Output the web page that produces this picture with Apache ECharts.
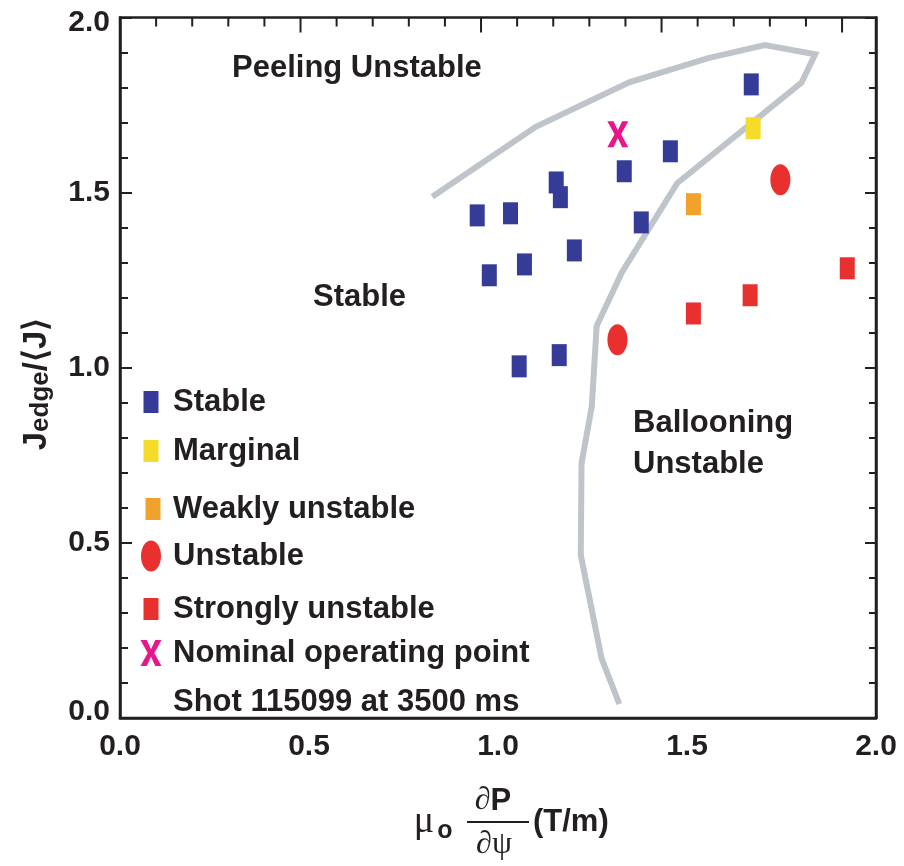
<!DOCTYPE html>
<html>
<head>
<meta charset="utf-8">
<title>Edge stability diagram</title>
<script src="https://cdn.jsdelivr.net/npm/echarts@6/dist/echarts.min.js"></script>
<style>
  html, body { margin: 0; padding: 0; background: #fff; }
  #chart { width: 904px; height: 866px; }
</style>
</head>
<body>
<div id="chart"></div>
<script>
// Measured cases: [pressure gradient (T/m), J_edge/<J>]
const stablePts = [
  [1.670, 1.809], [1.456, 1.618], [1.334, 1.561], [1.154, 1.529],
  [1.165, 1.487], [0.945, 1.435], [1.033, 1.441], [1.379, 1.415],
  [1.202, 1.335], [1.070, 1.295], [0.977, 1.264], [1.162, 1.036],
  [1.056, 1.004]
];
const marginalPts = [[1.675, 1.684]];
const weaklyPts = [[1.517, 1.467]];
const unstablePts = [[1.747, 1.537], [1.316, 1.080]];
const stronglyPts = [[1.924, 1.284], [1.667, 1.207], [1.517, 1.155]];
const nominalPts = [[1.317, 1.667]];

// Stability boundary (peeling / ballooning limits)
const boundary = [
  [0.826, 1.488], [1.100, 1.688], [1.347, 1.815], [1.556, 1.884],
  [1.706, 1.921], [1.839, 1.895], [1.803, 1.814], [1.474, 1.527],
  [1.328, 1.273], [1.261, 1.119], [1.248, 0.889], [1.221, 0.727],
  [1.219, 0.465], [1.274, 0.170], [1.321, 0.040]
];

const xRange = [0, 2];
const yRange = [0, 2];
const majorStep = 0.5;
// ruler along the top frame: its 0..2.094 span covers the full plot width
const topRulerMax = 2.094;
const topRulerMinor = [0.1, 0.2, 0.3, 0.4, 0.6, 0.7, 0.8, 0.9, 1.1, 1.2, 1.3, 1.4, 1.6, 1.7, 1.8, 1.9];
const topRulerMajor = [0.5, 1.0, 1.5, 2.0];

const INK = '#231f20';
const SANS = "'Liberation Sans', Arial, Helvetica, sans-serif";
const SERIF = "'Liberation Serif', 'DejaVu Serif', serif";
const C_STABLE = '#343c98';
const C_MARGINAL = '#f5dc2b';
const C_WEAK = '#f0a22d';
const C_RED = '#e8302f';
const C_NOMINAL = '#e8168a';
const C_CURVE = '#bfc4cb';

const ELLIPSE = 'path://M10,0 A10,15.5 0 1,1 10,31 A10,15.5 0 1,1 10,0 Z';
const XMARK = 'path://M0,0 L6.2,0 L10.5,9.2 L14.8,0 L21,0 L13.8,13 L21,26 L14.8,26 L10.5,16.8 L6.2,26 L0,26 L7.2,13 Z';

const tickFont = { fontSize: 30, fontWeight: 'bold', fontFamily: SANS, color: INK };
const textFont = { fontSize: 31, fontWeight: 'bold', fontFamily: SANS, color: INK };

const LEGEND_TEXT_X = 173;
const GRID = { left: 120, right: 28, top: 17.5, bottom: 148 };

function legendItem(name, icon, w, h, cx, cy) {
  return {
    data: [{ name: name, icon: icon }],
    orient: 'vertical',
    left: cx - w / 2,
    top: cy - 18,
    padding: 0,
    itemWidth: w,
    itemHeight: h,
    symbolKeepAspect: true,
    selectedMode: false,
    textStyle: Object.assign({ lineHeight: 36, padding: [0, 0, 0, LEGEND_TEXT_X - 5 - (cx + w / 2)] }, textFont)
  };
}

const chart = echarts.init(document.getElementById('chart'), null, { renderer: 'canvas' });

const tickLine = { color: INK, width: 2 };

const baseGraphic = [
  // region annotations
  { type: 'text', x: 232, y: 68, style: { text: 'Peeling Unstable', fill: INK, font: 'bold 31px ' + SANS, align: 'left', verticalAlign: 'middle' } },
  { type: 'text', x: 313, y: 297, style: { text: 'Stable', fill: INK, font: 'bold 31px ' + SANS, align: 'left', verticalAlign: 'middle' } },
  { type: 'text', x: 633, y: 423, style: { text: 'Ballooning', fill: INK, font: 'bold 31px ' + SANS, align: 'left', verticalAlign: 'middle' } },
  { type: 'text', x: 633, y: 464, style: { text: 'Unstable', fill: INK, font: 'bold 31px ' + SANS, align: 'left', verticalAlign: 'middle' } },
  // second line of the nominal-point legend entry
  { type: 'text', x: LEGEND_TEXT_X, y: 702, style: { text: 'Shot 115099 at 3500 ms', fill: INK, font: 'bold 31px ' + SANS, align: 'left', verticalAlign: 'middle' } },
  // y-axis title: J_edge / <J>
  {
    type: 'text', x: 37, y: 384, rotation: Math.PI / 2,
    style: {
      text: '{j|J}{s|edge}{j|/\u27e8J\u27e9}',
      align: 'center', verticalAlign: 'middle', fill: INK,
      rich: {
        j: { fontSize: 33, fontWeight: 'bold', fontFamily: SANS, fill: INK, verticalAlign: 'top', lineHeight: 34 },
        s: { fontSize: 26, fontWeight: 'bold', fontFamily: SANS, fill: INK, verticalAlign: 'bottom', lineHeight: 26, padding: [20, 0, 0, 0] }
      }
    }
  },
  // x-axis title: mu_o dP/dpsi (T/m)
  { type: 'text', x: 424, y: 822, style: { text: '\u03bc', fill: INK, font: '38px ' + SERIF, align: 'center', verticalAlign: 'middle' } },
  { type: 'text', x: 445, y: 831, style: { text: 'o', fill: INK, font: 'bold 25px ' + SANS, align: 'center', verticalAlign: 'middle' } },
  { type: 'text', x: 493, y: 801, style: { text: '{d|\u2202}{p|P}', align: 'center', verticalAlign: 'middle', fill: INK,
      rich: { d: { fontSize: 32, fontFamily: SERIF, fill: INK }, p: { fontSize: 31, fontWeight: 'bold', fontFamily: SANS, fill: INK } } } },
  { type: 'line', shape: { x1: 467, y1: 822, x2: 529, y2: 822 }, style: { stroke: INK, lineWidth: 2 } },
  { type: 'text', x: 494, y: 845, style: { text: '\u2202\u03c8', fill: INK, font: '32px ' + SERIF, align: 'center', verticalAlign: 'middle' } },
  { type: 'text', x: 533, y: 822, style: { text: '(T/m)', fill: INK, font: 'bold 31px ' + SANS, align: 'left', verticalAlign: 'middle' } }
];

const option = {
  animation: false,
  backgroundColor: '#ffffff',
  grid: Object.assign({ show: true, borderColor: INK, borderWidth: 2.5, backgroundColor: 'transparent' }, GRID),
  xAxis: [
    {
      type: 'value', position: 'bottom', min: xRange[0], max: xRange[1], interval: majorStep,
      axisLine: { show: true, onZero: false, lineStyle: { color: INK, width: 2.5 } },
      axisTick: { show: false },
      splitLine: { show: false },
      axisLabel: Object.assign({ margin: 14, formatter: v => v.toFixed(1) }, tickFont)
    }
  ],
  yAxis: [
    {
      type: 'value', position: 'left', min: yRange[0], max: yRange[1], interval: majorStep,
      axisLine: { show: true, onZero: false, lineStyle: { color: INK, width: 2.5 } },
      axisTick: { show: true, inside: true, length: 12, lineStyle: tickLine },
      minorTick: { show: true, splitNumber: 5, length: 8, lineStyle: tickLine },
      splitLine: { show: false }, minorSplitLine: { show: false },
      axisLabel: Object.assign({
        margin: 10,
        formatter: v => v === 2 ? '{t|2.0}' : (v === 0 ? '{b|0.0}' : v.toFixed(1)),
        rich: {
          t: Object.assign({ padding: [11, 0, 0, 0] }, tickFont),
          b: Object.assign({ padding: [0, 0, 13, 0] }, tickFont)
        }
      }, tickFont)
    },
    {
      type: 'value', position: 'right', min: yRange[0], max: yRange[1], interval: majorStep,
      axisLine: { show: true, onZero: false, lineStyle: { color: INK, width: 2.5 } },
      axisTick: { show: true, inside: true, length: 11, lineStyle: tickLine },
      minorTick: { show: true, splitNumber: 5, length: 7, lineStyle: tickLine },
      splitLine: { show: false }, axisLabel: { show: false }
    }
  ],
  legend: [
    legendItem('Stable', 'rect', 15, 22, 151, 402),
    legendItem('Marginal', 'rect', 15, 22, 151, 451),
    legendItem('Weakly unstable', 'rect', 15, 22, 153, 509),
    legendItem('Unstable', ELLIPSE, 20, 31, 151, 556),
    legendItem('Strongly unstable', 'rect', 15, 22, 151, 609),
    legendItem('Nominal operating point', XMARK, 21, 26, 151, 653)
  ],
  series: [
    {
      name: 'Stability boundary', type: 'line', data: boundary, xAxisIndex: 0, yAxisIndex: 0,
      showSymbol: false, symbol: 'none', silent: true, smooth: false,
      lineStyle: { color: C_CURVE, width: 6, join: 'miter', cap: 'butt' }, z: 1
    },
    { name: 'Stable', type: 'scatter', data: stablePts, symbol: 'rect', symbolSize: [15, 22],
      itemStyle: { color: C_STABLE, opacity: 1 }, z: 3 },
    { name: 'Marginal', type: 'scatter', data: marginalPts, symbol: 'rect', symbolSize: [15, 22],
      itemStyle: { color: C_MARGINAL, opacity: 1 }, z: 3 },
    { name: 'Weakly unstable', type: 'scatter', data: weaklyPts, symbol: 'rect', symbolSize: [15, 22],
      itemStyle: { color: C_WEAK, opacity: 1 }, z: 3 },
    { name: 'Unstable', type: 'scatter', data: unstablePts, symbol: ELLIPSE, symbolSize: [20, 31],
      itemStyle: { color: C_RED, opacity: 1 }, z: 3 },
    { name: 'Strongly unstable', type: 'scatter', data: stronglyPts, symbol: 'rect', symbolSize: [15, 22],
      itemStyle: { color: C_RED, opacity: 1 }, z: 3 },
    { name: 'Nominal operating point', type: 'scatter', data: nominalPts, symbol: XMARK, symbolSize: [21, 26],
      itemStyle: { color: C_NOMINAL, opacity: 1 }, z: 3 }
  ],
  graphic: baseGraphic
};

chart.setOption(option);

// Tick ruler hanging from the top frame, placed through the x scale of the plot.
function finiteOr(v, fallback) { return (typeof v === 'number' && isFinite(v)) ? v : fallback; }
const plotLeft = finiteOr(chart.convertToPixel({ xAxisIndex: 0 }, xRange[0]), GRID.left);
const plotRight = finiteOr(chart.convertToPixel({ xAxisIndex: 0 }, xRange[1]), 904 - GRID.right);
const plotTop = finiteOr(chart.convertToPixel({ yAxisIndex: 0 }, yRange[1]), GRID.top);

function rulerTick(v, len) {
  const x = plotLeft + (v / topRulerMax) * (plotRight - plotLeft);
  return {
    type: 'rect', silent: true, z: 100, zlevel: 1,
    shape: { x: x - 1, y: plotTop, width: 2, height: len },
    style: { fill: INK }
  };
}
const rulerTicks = topRulerMinor.map(v => rulerTick(v, 9)).concat(topRulerMajor.map(v => rulerTick(v, 15)));

chart.setOption({ graphic: baseGraphic.concat(rulerTicks) }, { replaceMerge: ['graphic'] });
</script>
</body>
</html>
